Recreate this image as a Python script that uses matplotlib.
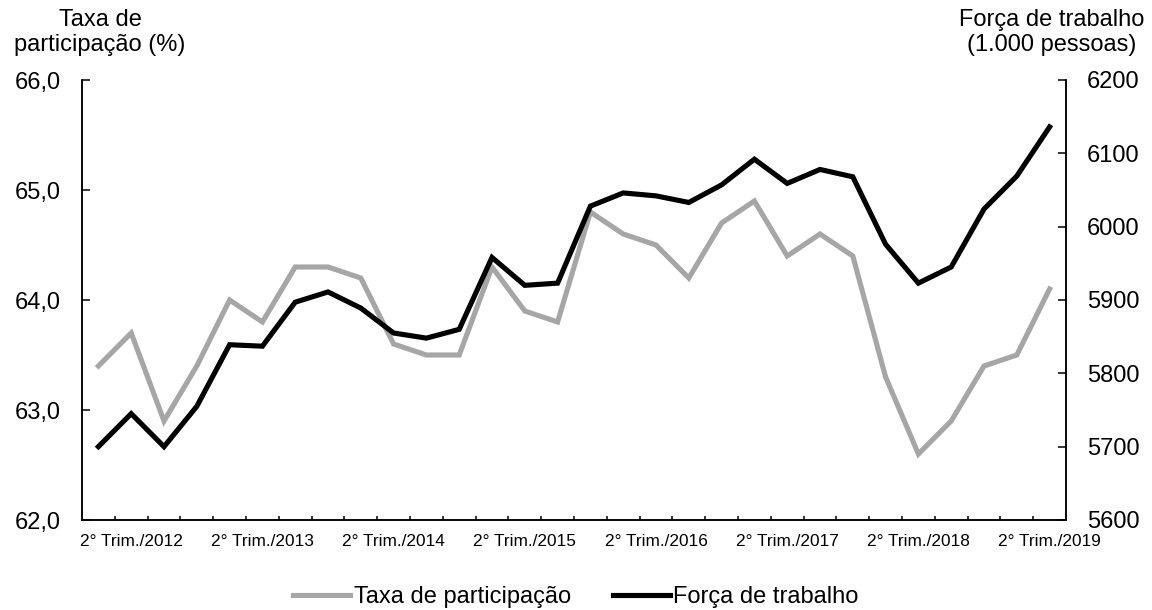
import numpy as np
import matplotlib
matplotlib.use("Agg")
import matplotlib.pyplot as plt
from matplotlib.lines import Line2D
from matplotlib.ticker import FixedLocator, FuncFormatter

plt.rcParams['font.family'] = ['Liberation Sans', 'DejaVu Sans']

# quarters 1° Trim./2012 .. 2° Trim./2019
quarters = [f"{q}° Trim./{y}" for y in range(2012, 2020) for q in range(1, 5)][:30]

taxa = [63.4, 63.7, 62.9, 63.4, 64.0, 63.8, 64.3, 64.3, 64.2, 63.6,
        63.5, 63.5, 64.3, 63.9, 63.8, 64.8, 64.6, 64.5, 64.2, 64.7,
        64.9, 64.4, 64.6, 64.4, 63.3, 62.6, 62.9, 63.4, 63.5, 64.1]

forca = [5700, 5745, 5700, 5755, 5839, 5837, 5897, 5911, 5889, 5855,
         5848, 5860, 5958, 5920, 5923, 6028, 6046, 6042, 6033, 6057,
         6092, 6059, 6078, 6068, 5976, 5923, 5945, 6024, 6069, 6136]

left_ticks = [62, 63, 64, 65, 66]
right_ticks = [5600, 5700, 5800, 5900, 6000, 6100, 6200]

GRAY = '#A6A6A6'
BIG = 17
SMALL = 12.4

fig = plt.figure(figsize=(11.52, 6.10), dpi=100)
ax = fig.add_axes([82 / 1152, 1 - 520 / 610, (1066 - 82) / 1152, 440 / 610])
ax2 = ax.twinx()

x = np.arange(len(quarters))
ax.plot(x, taxa, color=GRAY, lw=3.7, solid_joinstyle='miter')
ax2.plot(x, forca, color='black', lw=3.7, solid_joinstyle='miter')

ax.set_xlim(-0.5, len(quarters) - 0.5)
ax.set_ylim(62, 66)
ax2.set_ylim(5600, 6200)

# x axis: tick marks at category boundaries, labels every 4th quarter
lab_idx = list(range(1, len(quarters), 4))
ax.xaxis.set_major_locator(FixedLocator(lab_idx))
ax.set_xticklabels([quarters[i] for i in lab_idx], fontsize=SMALL)
ax.xaxis.set_minor_locator(FixedLocator(np.arange(0.5, len(quarters) - 0.5, 1)))
ax.tick_params(axis='x', which='major', length=0, pad=10)
ax.tick_params(axis='x', which='minor', direction='in', length=3, width=1.1)

ax.set_yticks(left_ticks)
ax.yaxis.set_major_formatter(FuncFormatter(lambda v, p: f"{v:.1f}".replace('.', ',')))
ax.tick_params(axis='y', direction='in', length=6, width=1.1, labelsize=BIG, pad=15)

ax2.set_yticks(right_ticks)
ax2.tick_params(axis='y', direction='in', length=6, width=1.1, labelsize=BIG, pad=15)

for a in (ax, ax2):
    a.spines['top'].set_visible(False)
    for s in ('left', 'right', 'bottom'):
        a.spines[s].set_linewidth(1.1)

fig.text(100 / 1152, 1 - 9 / 610, "Taxa de\nparticipação (%)", fontsize=BIG,
         ha='center', va='top', multialignment='center', linespacing=1.15)
fig.text(1052 / 1152, 1 - 9 / 610, "Força de trabalho\n(1.000 pessoas)", fontsize=BIG,
         ha='center', va='top', multialignment='center', linespacing=1.15)

handles = [Line2D([], [], color=GRAY, lw=3.7),
           Line2D([], [], color='black', lw=3.7)]
fig.legend(handles, ["Taxa de participação", "Força de trabalho"],
           loc='center', bbox_to_anchor=(0.5, 1 - 597 / 610), ncol=2,
           frameon=False, fontsize=BIG, handlelength=2.4, handletextpad=0.15,
           columnspacing=1.8, borderpad=0, borderaxespad=0)

fig.savefig("out.png", dpi=100)
